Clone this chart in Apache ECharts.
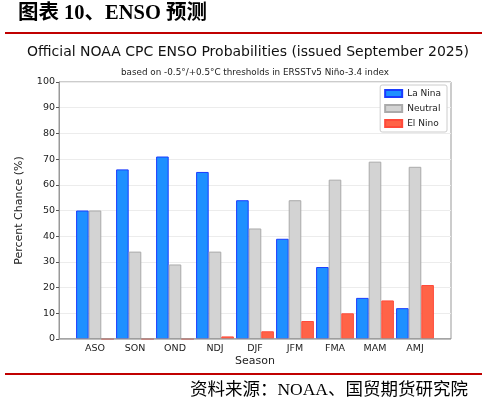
<!DOCTYPE html>
<html>
<head>
<meta charset="utf-8">
<script src="https://cdn.jsdelivr.net/npm/echarts@6/dist/echarts.min.js"></script>
<style>
    html, body { margin: 0; padding: 0; background: #fff; }
    #chart { width: 487px; height: 407px; }
</style>
</head>
<body>
<div id="chart"></div>
<script>
const seasons = ['ASO', 'SON', 'OND', 'NDJ', 'DJF', 'JFM', 'FMA', 'MAM', 'AMJ'];
const laNina = [50, 66, 71, 65, 54, 39, 28, 16, 12];
const neutral = [50, 34, 29, 34, 43, 54, 62, 69, 67];
const elNino = [0, 0, 0, 1, 3, 7, 10, 15, 21];
const yTicks = [0, 10, 20, 30, 40, 50, 60, 70, 80, 90, 100];

const font = 'DejaVu Sans';
const plot = { left: 59, right: 36, top: 82, bottom: 68 };

function barSeries(name, data, fill, edge) {
    return {
        name: name,
        type: 'bar',
        xAxisIndex: 1,
        yAxisIndex: 1,
        data: data,
        barWidth: 12.6,
        barGap: '0%',
        itemStyle: { color: fill, borderColor: edge, borderWidth: 1 }
    };
}

const chart = echarts.init(document.getElementById('chart'));

chart.setOption({
    animation: false,
    textStyle: { fontFamily: font },
    graphic: [
        {
            type: 'text', left: 18, top: 3,
            style: { text: '图表 10、ENSO 预测', font: 'bold 20.5px "Liberation Serif", "Noto Sans CJK SC"', fill: '#000' }
        },
        {
            type: 'rect', shape: { x: 5, y: 32, width: 477, height: 2 },
            style: { fill: '#C00000' }
        },
        {
            type: 'text', left: 27, top: 45,
            style: { text: 'Official NOAA CPC ENSO Probabilities (issued September 2025)', font: '14px "DejaVu Sans"', fill: '#111' }
        },
        {
            type: 'text', left: 121, top: 68,
            style: { text: 'based on -0.5°/+0.5°C thresholds in ERSSTv5 Niño-3.4 index', font: '8.8px "DejaVu Sans"', fill: '#222' }
        },
        {
            type: 'rect', shape: { x: 5, y: 373, width: 477, height: 2 },
            style: { fill: '#C00000' }
        },
        {
            type: 'text', right: 19, top: 382,
            style: { text: '资料来源：NOAA、国贸期货研究院', font: '17.5px "Liberation Serif", "Noto Sans CJK SC"', fill: '#000' }
        }
    ],
    legend: {
        orient: 'vertical',
        right: 40,
        top: 85,
        padding: [4, 6, 4, 4],
        icon: 'rect',
        itemWidth: 17,
        itemHeight: 7,
        itemGap: 6,
        borderColor: '#ccc',
        borderWidth: 1,
        borderRadius: 2,
        backgroundColor: '#fff',
        textStyle: { fontSize: 9, color: '#222', fontFamily: font },
        data: ['La Nina', 'Neutral', 'El Nino']
    },
    grid: [
        Object.assign({ show: true, borderColor: '#999', borderWidth: 1, backgroundColor: 'transparent' }, plot),
        { left: 75, right: 52, top: plot.top, bottom: plot.bottom }
    ],
    xAxis: [
        {
            type: 'value', gridIndex: 0, min: 0, max: 1,
            axisLine: { show: false }, axisTick: { show: false },
            axisLabel: { show: false }, splitLine: { show: false },
            name: 'Season', nameLocation: 'middle', nameGap: 17,
            nameTextStyle: { fontSize: 11, color: '#222' }
        },
        {
            type: 'category', gridIndex: 1, data: seasons,
            axisLine: { show: false }, axisTick: { show: false },
            axisLabel: { fontSize: 9.5, color: '#222', margin: 5 }
        }
    ],
    yAxis: [
        {
            type: 'value', gridIndex: 0, min: 0, max: 100, interval: 10,
            axisLine: { show: true, lineStyle: { color: '#999' } },
            axisTick: { show: true, length: 3, lineStyle: { color: '#555' } },
            axisLabel: {
                fontSize: 9.5, color: '#222', margin: 4,
                formatter: v => yTicks.includes(v) ? String(v) : ''
            },
            splitLine: { show: true, lineStyle: { color: '#ececec', width: 1 } },
            name: 'Percent Chance (%)', nameLocation: 'middle', nameGap: 34,
            nameTextStyle: { fontSize: 11, color: '#222' }
        },
        {
            type: 'value', gridIndex: 1, min: 0, max: 100,
            axisLine: { show: false }, axisTick: { show: false },
            axisLabel: { show: false }, splitLine: { show: false }
        }
    ],
    series: [
        barSeries('La Nina', laNina, '#1E90FF', '#1a3cff'),
        barSeries('Neutral', neutral, '#D3D3D3', '#aaaaaa'),
        barSeries('El Nino', elNino, '#FF6347', '#ff4a3a'),
        {
            type: 'line', xAxisIndex: 0, yAxisIndex: 0, silent: true,
            data: [[0, 0], [1, 0]], symbol: 'none',
            lineStyle: { color: '#999', width: 1.5 }
        }
    ]
});
</script>
</body>
</html>
